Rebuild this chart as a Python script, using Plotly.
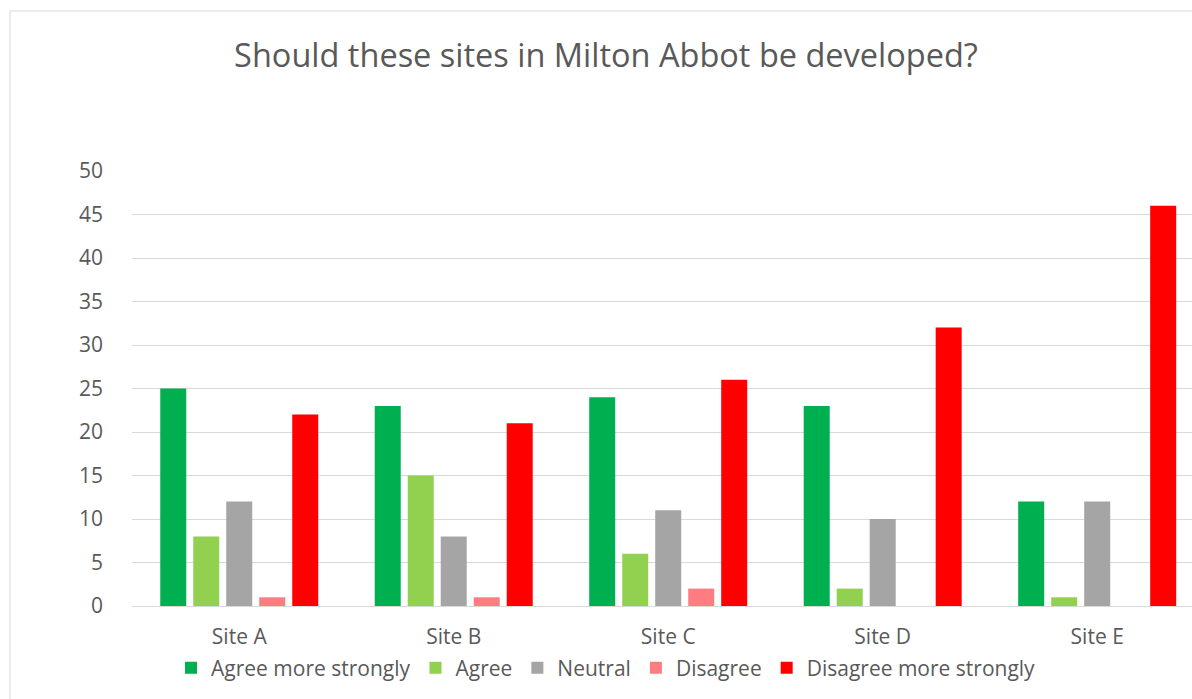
import plotly.graph_objects as go

# Survey responses per site
sites = ["Site A", "Site B", "Site C", "Site D", "Site E"]
agree_more_strongly = [25, 23, 24, 23, 12]
agree = [8, 15, 6, 2, 1]
neutral = [12, 8, 11, 10, 12]
disagree = [1, 1, 2, 0, 0]
disagree_more_strongly = [22, 21, 26, 32, 46]

series = [
    ("Agree more strongly", agree_more_strongly, "#00B050"),
    ("Agree", agree, "#92D050"),
    ("Neutral", neutral, "#A5A5A5"),
    ("Disagree", disagree, "#FF7C80"),
    ("Disagree more strongly", disagree_more_strongly, "#FF0000"),
]

FONT = "Open Sans"
TEXT_COLOR = "#595959"
GRID = "#D9D9D9"

fig = go.Figure()
for name, values, color in series:
    fig.add_trace(go.Bar(
        x=sites, y=values, name=name,
        marker=dict(color=color, line=dict(width=0)),
    ))

W, H = 1192, 699
left, top, bottom = 132, 171, 93

fig.update_layout(
    width=W, height=H,
    margin=dict(l=left, r=0, t=top, b=bottom, pad=0, autoexpand=False),
    paper_bgcolor="white", plot_bgcolor="white",
    barmode="group", bargap=0.2308, bargroupgap=0.212,
    font=dict(family=FONT, color=TEXT_COLOR, size=21),
    title=dict(
        text="Should these sites in Milton Abbot be developed?",
        font=dict(family=FONT, size=32.5, color=TEXT_COLOR),
        xref="container", x=606 / W, xanchor="center",
        yref="container", y=1 - 56 / H, yanchor="middle",
    ),
    showlegend=True,
    legend=dict(
        orientation="h", xref="container", yref="container",
        x=606 / W, xanchor="center", y=1 - 668 / H, yanchor="middle",
        font=dict(family=FONT, size=21, color=TEXT_COLOR),
        traceorder="normal", bgcolor="rgba(0,0,0,0)",
    ),
    xaxis=dict(
        range=[-0.5, 4.442], showgrid=False, showline=True,
        linecolor=GRID, linewidth=1, ticks="", ticklabelstandoff=12,
        tickfont=dict(family=FONT, size=21, color=TEXT_COLOR),
        fixedrange=True, automargin=False,
    ),
    yaxis=dict(
        range=[0, 50], dtick=5, showgrid=True, gridcolor=GRID,
        gridwidth=1, zeroline=False, showline=False, ticks="",
        ticklabelstandoff=28,
        tickfont=dict(family=FONT, size=21, color=TEXT_COLOR),
        fixedrange=True, automargin=False,
    ),
    shapes=[dict(
        type="rect", xref="paper", yref="paper",
        x0=-(left - 10) / (W - left), x1=1.05,
        y0=-(bottom + 10) / (H - top - bottom), y1=1 + (top - 11) / (H - top - bottom),
        line=dict(color="#D9D9D9", width=1), fillcolor="rgba(0,0,0,0)",
        layer="below",
    )],
)

fig.write_html("out.html")
